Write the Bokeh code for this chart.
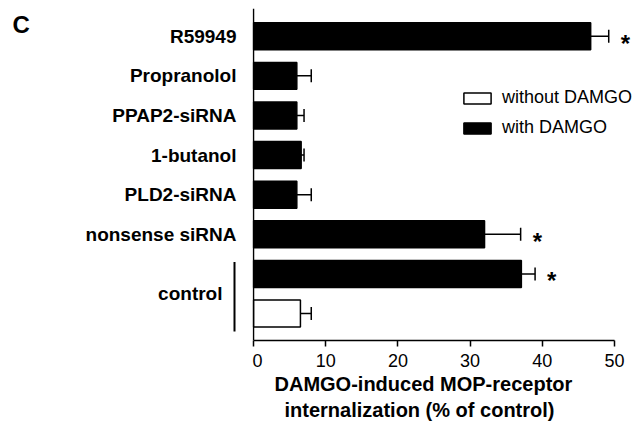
from bokeh.plotting import figure
from bokeh.layouts import row
from bokeh.models import (ColumnDataSource, Range1d, LinearAxis, FixedTicker, Whisker,
                          TeeHead, Legend, LegendItem, Span, Title)
from bokeh.core.properties import value
from bokeh.embed import file_html
from bokeh.resources import INLINE

# ---- data ----
categories = ["R59949", "Propranolol", "PPAP2-siRNA", "1-butanol", "PLD2-siRNA",
              "nonsense siRNA", "control", "control"]
condition = ["with DAMGO"] * 7 + ["without DAMGO"]
values = [46.7, 6.0, 6.0, 6.6, 6.0, 32.0, 37.1, 6.5]
errors = [2.5, 2.0, 1.0, 0.4, 2.0, 5.0, 1.9, 1.5]
significant = [True, False, False, False, False, True, True, False]
x_ticks = [0, 10, 20, 30, 40, 50]
x_title = ["DAMGO-induced MOP-receptor", "internalization (% of control)"]

FONT = "Liberation Sans"
n = len(categories)
ypos = [n - 1 - i for i in range(n)]
hi = [v + e for v, e in zip(values, errors)]

# ---- layout constants ----
W, H = 643, 432
TOP, BOTTOM = 8, 92
LEFT_W = 252                   # width of label panel
RIGHT_W = W - LEFT_W
PX = 7.22                      # px per data unit on x
X_START = -1 / PX
X_END = X_START + RIGHT_W / PX
y_range = Range1d(-0.68, n - 0.30)
PY = (H - TOP - BOTTOM) / (y_range.end - y_range.start)

# ---- label panel (left) ----
pl = figure(width=LEFT_W, height=H, output_backend="svg", toolbar_location=None,
            x_range=Range1d(-LEFT_W - 1, -1), y_range=y_range,
            x_axis_location=None, y_axis_location=None,
            min_border_left=0, min_border_right=0, min_border_top=TOP,
            min_border_bottom=BOTTOM)
pl.outline_line_color = None
pl.grid.visible = False

single = [(c, y) for c, y in zip(categories, ypos) if c != "control"]
ctrl_rows = [y for c, y in zip(categories, ypos) if c == "control"]
ctrl_mid = sum(ctrl_rows) / len(ctrl_rows)

lab_src = ColumnDataSource(dict(x=[-17] * len(single) + [-31],
                                y=[y for _, y in single] + [ctrl_mid],
                                t=[c for c, _ in single] + ["control"]))
pl.text(x="x", y="y", text="t", source=lab_src, text_align="right",
        text_baseline="middle", text_font=value(FONT), text_font_style="bold",
        text_font_size="19px", text_color="black")
pl.segment(x0=[-19], y0=[min(ctrl_rows) - 0.45], x1=[-19], y1=[max(ctrl_rows) + 0.30],
           line_color="black", line_width=2)
pl.text(x=[-241], y=[y_range.end - (24 - TOP) / PY], text=["C"], text_align="left",
        text_baseline="middle", text_font=value(FONT), text_font_style="bold",
        text_font_size="24px", text_color="black")

# ---- bar panel (right) ----
p = figure(width=RIGHT_W, height=H, output_backend="svg", toolbar_location=None,
           x_range=Range1d(X_START, X_END), y_range=y_range,
           x_axis_location=None, y_axis_location=None,
           min_border_left=0, min_border_right=0, min_border_top=TOP,
           min_border_bottom=BOTTOM)
p.outline_line_color = None
p.grid.visible = False

xa = LinearAxis(ticker=FixedTicker(ticks=x_ticks), bounds=(0, 50))
xa.major_label_text_font = FONT
xa.major_label_text_font_size = "18px"
xa.major_label_text_color = "black"
xa.major_label_standoff = 7
xa.major_tick_out = 6
xa.major_tick_in = 0
xa.minor_tick_line_color = None
xa.axis_line_width = 1.5
xa.major_tick_line_width = 1.5
xa.axis_line_color = "black"
xa.major_tick_line_color = "black"
p.add_layout(xa, "below")

# two-line x-axis title, each line positioned under the value axis
for txt, off in zip(x_title, [22, 32]):
    p.add_layout(Title(text=txt, align="left", offset=off, standoff=2,
                       text_font=FONT, text_font_style="bold", text_font_size="20px",
                       text_color="black"), "below")

# value axis line at x = 0
p.add_layout(Span(location=0, dimension="height", line_color="black", line_width=1.5))

def subset(cond):
    idx = [i for i, c in enumerate(condition) if c == cond]
    return ColumnDataSource(dict(y=[ypos[i] for i in idx], v=[values[i] for i in idx]))

r_with = p.hbar(y="y", left=0, right="v", height=0.68, fill_color="black",
                line_color="black", line_width=1.5, source=subset("with DAMGO"))
r_without = p.hbar(y="y", left=0, right="v", height=0.68, fill_color="white",
                   line_color="black", line_width=1.5, source=subset("without DAMGO"))

src = ColumnDataSource(dict(y=ypos, v=values, hi=hi))
p.add_layout(Whisker(source=src, base="y", lower="v", upper="hi", dimension="width",
                     lower_head=None,
                     upper_head=TeeHead(size=13, line_width=1.5, line_color="black"),
                     line_width=1.5, line_color="black"))

sig_src = ColumnDataSource(dict(x=[h for h, s in zip(hi, significant) if s],
                                y=[y for y, s in zip(ypos, significant) if s],
                                t=["*"] * sum(significant)))
p.text(x="x", y="y", text="t", source=sig_src, x_offset=12, y_offset=7,
       text_align="left", text_baseline="middle", text_font=value(FONT),
       text_font_style="bold", text_font_size="24px", text_color="black")

legend = Legend(items=[LegendItem(label="without DAMGO", renderers=[r_without]),
                       LegendItem(label="with DAMGO", renderers=[r_with])],
                location=(208, 202), orientation="vertical",
                glyph_width=34, glyph_height=14, label_height=20, spacing=9,
                label_standoff=8, padding=0, margin=0,
                border_line_color=None, background_fill_alpha=0,
                label_text_font=FONT, label_text_font_size="18px", label_text_color="black")
p.add_layout(legend)

layout = row(pl, p, spacing=0)
open("out.html", "w").write(file_html(layout, INLINE))
